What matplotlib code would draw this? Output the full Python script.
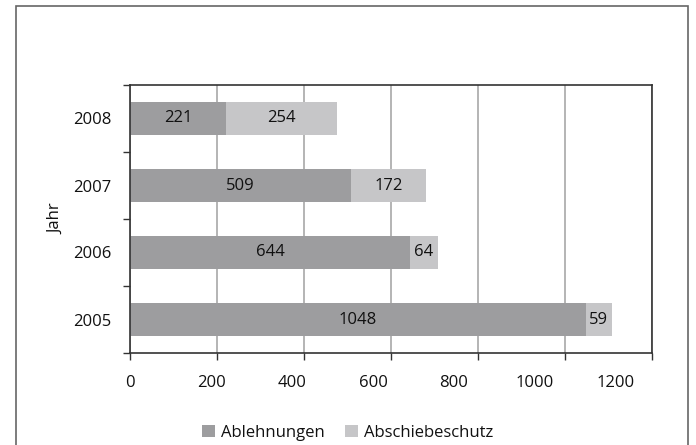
import numpy as np
import matplotlib
matplotlib.use("Agg")
import matplotlib.pyplot as plt
from matplotlib.patches import Rectangle
from matplotlib.transforms import ScaledTranslation

years = ["2005", "2006", "2007", "2008"]
ablehnungen = [1048, 644, 509, 221]
abschiebeschutz = [59, 64, 172, 254]
xticks = [0, 200, 400, 600, 800, 1000, 1200]

dark = "#9d9d9f"
light = "#c6c6c8"

plt.rcParams['font.family'] = ['Open Sans', 'DejaVu Sans']
plt.rcParams['font.size'] = 12

fig = plt.figure(figsize=(6.96, 4.45), dpi=100)
ax = fig.add_axes([130/696, 1-353/445, 522/696, 268/445])

y = np.arange(len(years))
b1 = ax.barh(y, ablehnungen, height=0.5, color=dark, label="Ablehnungen", zorder=2)
b2 = ax.barh(y, abschiebeschutz, height=0.5, left=ablehnungen, color=light,
             label="Abschiebeschutz", zorder=2)
ax.bar_label(b1, label_type="center", color="#111111")
ax.bar_label(b2, label_type="center", color="#111111")

ax.set_xlim(0, 1200)
ax.set_ylim(-0.5, len(years) - 0.5)
ax.set_xticks(xticks)
ax.set_xticklabels([str(v) for v in xticks])
ax.set_yticks(y)
ax.set_yticklabels(years)
ax.set_yticks(np.arange(-0.5, len(years), 1), minor=True)
ax.tick_params(axis="y", which="major", length=0, pad=13.5, labelcolor="#111111")
ax.tick_params(axis="y", which="minor", length=5, width=1, color="#333333", direction="out")
ax.tick_params(axis="x", length=5, width=1, color="#333333", direction="out", pad=11,
               labelcolor="#111111")
ax.set_ylabel("Jahr", labelpad=6, color="#111111")

# the original has its value labels drifting left of the ticks
for v, lab in zip(xticks, ax.get_xticklabels()):
    lab.set_transform(lab.get_transform() + ScaledTranslation(-v * 0.03 / 100, 0, fig.dpi_scale_trans))

ax.grid(axis="x", color="#a8a8a8", linewidth=1.2, zorder=0)
ax.set_axisbelow(True)
for s in ax.spines.values():
    s.set_color("#333333")
    s.set_linewidth(1.2)

fig.legend(handles=[b1, b2], loc="center", bbox_to_anchor=(348/696, 1-433/445),
           ncol=2, frameon=False, handlelength=0.75, handleheight=0.75,
           handletextpad=0.4, columnspacing=1.2, labelcolor="#111111")

fig.patches.append(Rectangle((16/696, -0.02), 672/696, 1.02 - 6/445, transform=fig.transFigure,
                             fill=False, edgecolor="#666666", linewidth=1.2))

fig.savefig("out.png", dpi=100)
